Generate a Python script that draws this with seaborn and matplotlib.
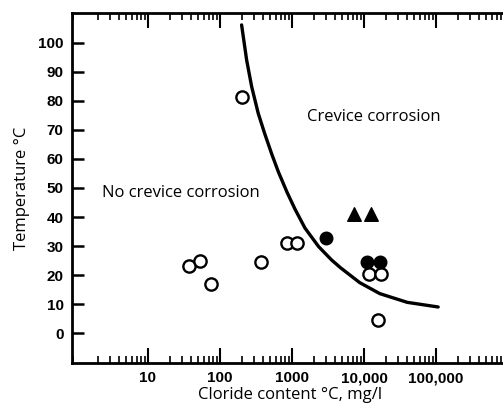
import numpy as np
import matplotlib
matplotlib.use("Agg")
import matplotlib.pyplot as plt
import matplotlib.ticker as mticker
import seaborn as sns

# Data
open_x = [37, 53, 75, 205, 370, 850, 1170, 11800, 17300, 15600]
open_y = [23.2, 24.9, 16.9, 81.4, 24.5, 31, 31, 20.3, 20.3, 4.5]

filled_x = [2950, 11000, 16600]
filled_y = [32.7, 24.5, 24.5]

tri_x = [7200, 12600]
tri_y = [41, 41]

# boundary curve (log10 x, temperature)
curve_logx = [2.30, 2.37, 2.44, 2.53, 2.62, 2.72, 2.81, 2.93, 3.04, 3.18,
              3.37, 3.55, 3.67, 3.94, 4.22, 4.60, 5.03]
curve_y = [106.2, 94.1, 84.9, 75.8, 68.8, 61.6, 55.6, 48.6, 42.8, 36.2,
           29.8, 25.2, 22.6, 17.4, 13.6, 10.6, 9.0]

xtick_vals = [10, 100, 1000, 10000, 100000]
xtick_labels = ["10", "100", "1000", "10,000", "100,000"]
ytick_vals = [0, 10, 20, 30, 40, 50, 60, 70, 80, 90, 100]

sns.set_style("ticks", {"axes.edgecolor": "black", "text.color": "black",
                        "xtick.color": "black", "ytick.color": "black",
                        "axes.labelcolor": "black"})
plt.rcParams["font.family"] = ["Liberation Sans", "DejaVu Sans"]
label_font = ["Open Sans", "DejaVu Sans"]

W, H = 503, 404
fig = plt.figure(figsize=(W / 100, H / 100), dpi=100)
ax = fig.add_axes([72 / W, (H - 363) / H, (508 - 72) / W, (363 - 13) / H])

# boundary line
sns.lineplot(x=[10 ** v for v in curve_logx], y=curve_y, ax=ax,
             color="black", linewidth=2.4, sort=False)
ax.lines[-1].set_solid_joinstyle("round")

# open circles: no crevice corrosion
sns.scatterplot(x=open_x, y=open_y, ax=ax, marker="o", s=78,
                facecolor="white", edgecolor="black", linewidth=1.7, zorder=3)
# filled circles: crevice corrosion
sns.scatterplot(x=filled_x, y=filled_y, ax=ax, marker="o", s=78,
                color="black", edgecolor="black", linewidth=1.2, zorder=4)
# filled triangles
sns.scatterplot(x=tri_x, y=tri_y, ax=ax, marker="^", s=95,
                color="black", edgecolor="black", linewidth=1, zorder=4)

ax.set_xscale("log")
ax.set_xlim(0.88, 1e6)
ax.set_ylim(-10.3, 110.3)

ax.xaxis.set_major_locator(mticker.FixedLocator(xtick_vals))
ax.xaxis.set_major_formatter(mticker.FixedFormatter(xtick_labels))
ax.xaxis.set_minor_locator(mticker.LogLocator(base=10, subs=np.arange(2, 10), numticks=20))
ax.xaxis.set_minor_formatter(mticker.NullFormatter())
ax.set_yticks(ytick_vals)

for lab in ax.get_xticklabels() + ax.get_yticklabels():
    lab.set_fontweight("bold")
    lab.set_fontsize(11)

ax.tick_params(axis="x", which="major", direction="in", top=True, bottom=True,
               length=11, width=1.5, pad=6, colors="black")
ax.tick_params(axis="x", which="minor", direction="in", top=True, bottom=True,
               length=5, width=1.2, colors="black")
ax.tick_params(axis="y", which="major", direction="in", left=True, right=False,
               length=8.5, width=1.8, pad=6, colors="black")

for side in ["left", "bottom", "top"]:
    ax.spines[side].set_linewidth(2)
    ax.spines[side].set_color("black")
    ax.spines[side].set_visible(True)
ax.spines["right"].set_visible(False)

ax.set_xlabel("Cloride content °C, mg/l", family=label_font,
              fontsize=12, labelpad=1, color="black")
ax.set_ylabel("Temperature °C", family=label_font,
              fontsize=12, labelpad=6, color="black")

ax.text(1620, 74.5, "Crevice corrosion", family=label_font,
        fontsize=12, va="center", ha="left", color="black")
ax.text(2.3, 48.3, "No crevice corrosion", family=label_font,
        fontsize=12, va="center", ha="left", color="black")

fig.savefig("out.png", dpi=100)
